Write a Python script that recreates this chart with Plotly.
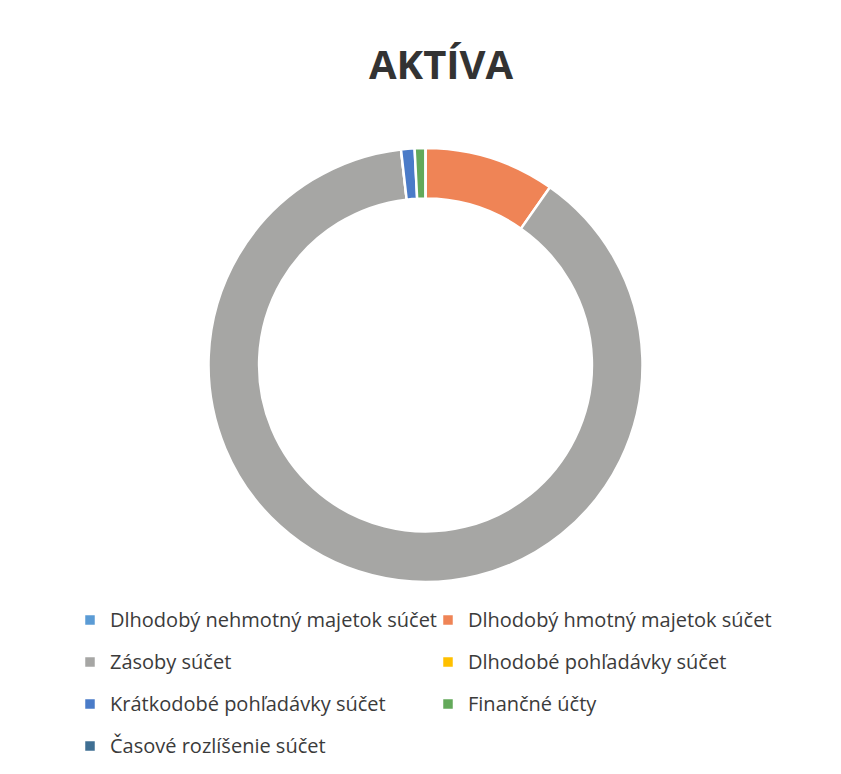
import plotly.graph_objects as go

# položky aktív (poradie ako v legende)
categories = [
    "Dlhodobý nehmotný majetok súčet",
    "Dlhodobý hmotný majetok súčet",
    "Zásoby súčet",
    "Dlhodobé pohľadávky súčet",
    "Krátkodobé pohľadávky súčet",
    "Finančné účty",
    "Časové rozlíšenie súčet",
]
shares = [0.0, 9.7, 88.3, 0.0, 1.0, 0.8, 0.0]
colors = ["#5B9BD5", "#EF8456", "#A6A6A4", "#FFC000", "#4A7BC8", "#63A95A", "#3F6F93"]

# legenda: väčší riadok (rozostup), menší text
labels = [
    f"<span style='font-size:20px;baseline-shift:5px'>{c}</span>" for c in categories
]

fig = go.Figure(
    go.Pie(
        labels=labels,
        values=shares,
        hole=0.767,
        sort=False,
        direction="clockwise",
        rotation=0,
        textinfo="none",
        marker=dict(colors=colors, line=dict(color="white", width=2.5)),
        domain=dict(x=[0.2384, 0.7545], y=[0.2584, 0.8191]),
        hoverinfo="label+percent",
    )
)

fig.update_layout(
    width=841,
    height=774,
    margin=dict(l=0, r=0, t=0, b=0, autoexpand=False),
    paper_bgcolor="white",
    plot_bgcolor="white",
    font=dict(family="Open Sans, Lato, sans-serif", color="#3b3b3b"),
    title=dict(
        text="<b>AKTÍVA</b>",
        x=0.515,
        xanchor="center",
        y=1 - 57 / 774,
        yref="container",
        yanchor="middle",
        font=dict(size=40, color="#333333", family="Open Sans, sans-serif"),
    ),
    legend=dict(
        orientation="h",
        x=62 / 841,
        xanchor="left",
        y=1 - 586 / 774,
        yanchor="top",
        entrywidth=313,
        font=dict(size=30, color="#3b3b3b"),
        bgcolor="rgba(0,0,0,0)",
    ),
    showlegend=True,
)

fig.write_html("out.html")
